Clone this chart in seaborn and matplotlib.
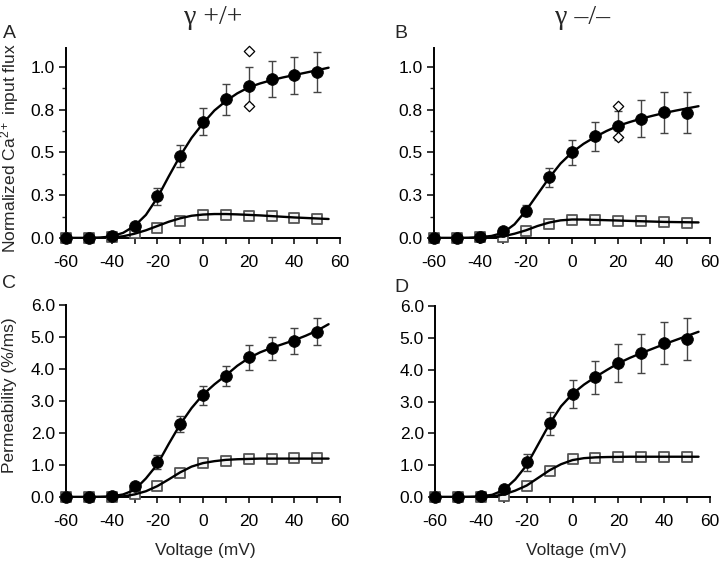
import numpy as np
import pandas as pd
import matplotlib
matplotlib.use("Agg")
import matplotlib.pyplot as plt
from matplotlib.ticker import FixedLocator
import seaborn as sns

# ---------------- data ----------------
volts = [-60, -50, -40, -30, -20, -10, 0, 10, 20, 30, 40, 50]
fit_v = [-60, -55, -50, -45, -40, -35, -30, -25, -20, -15, -10, -5,
         0, 5, 10, 15, 20, 25, 30, 35, 40, 45, 50, 55]

# Panel A (gamma +/+, normalized flux)
a_circ = [0, 0, 0.01, 0.07, 0.245, 0.48, 0.68, 0.81, 0.89, 0.93, 0.95, 0.97]
a_circ_err = [0, 0, 0.005, 0.02, 0.05, 0.065, 0.08, 0.09, 0.11, 0.105, 0.11, 0.115]
a_sq = [0, 0, 0.005, 0.03, 0.058, 0.10, 0.136, 0.136, 0.13, 0.126, 0.117, 0.113]
a_sq_err = [0, 0, 0, 0.005, 0.008, 0.01, 0.012, 0.012, 0.012, 0.01, 0.01, 0.01]
a_diam_v = [20, 20]
a_diam = [1.09, 0.77]
a_fit_circ = [0, 0, 0, 0.002, 0.01, 0.03, 0.07, 0.135, 0.235, 0.36, 0.48, 0.585,
              0.67, 0.745, 0.80, 0.845, 0.88, 0.903, 0.922, 0.938, 0.952, 0.966, 0.98, 0.995]
a_fit_sq = [0, 0, 0, 0.001, 0.003, 0.01, 0.025, 0.045, 0.07, 0.095, 0.115, 0.13,
            0.137, 0.14, 0.14, 0.138, 0.135, 0.132, 0.128, 0.124, 0.12, 0.117, 0.114, 0.111]

# Panel B (gamma -/-, normalized flux)
b_circ = [0, 0, 0.006, 0.04, 0.16, 0.354, 0.50, 0.593, 0.656, 0.698, 0.735, 0.733]
b_circ_err = [0, 0, 0.005, 0.015, 0.03, 0.055, 0.073, 0.082, 0.085, 0.107, 0.12, 0.12]
b_sq = [0, 0, 0.003, 0.006, 0.04, 0.084, 0.107, 0.103, 0.10, 0.10, 0.093, 0.09]
b_sq_err = [0, 0, 0, 0.003, 0.006, 0.008, 0.01, 0.01, 0.01, 0.01, 0.008, 0.008]
b_diam_v = [20, 20]
b_diam = [0.772, 0.59]
b_fit_circ = [0, 0, 0, 0.001, 0.005, 0.012, 0.03, 0.08, 0.16, 0.255, 0.35, 0.435,
              0.50, 0.55, 0.59, 0.625, 0.655, 0.677, 0.697, 0.714, 0.73, 0.744, 0.757, 0.77]
b_fit_sq = [0, 0, 0, 0, 0.001, 0.003, 0.01, 0.025, 0.045, 0.07, 0.09, 0.103,
            0.108, 0.108, 0.106, 0.104, 0.102, 0.10, 0.098, 0.096, 0.094, 0.093, 0.092, 0.091]

# Panel C (gamma +/+, permeability)
c_circ = [0, 0, 0.02, 0.33, 1.10, 2.27, 3.18, 3.78, 4.36, 4.65, 4.87, 5.17]
c_circ_err = [0, 0, 0.02, 0.06, 0.22, 0.25, 0.30, 0.31, 0.39, 0.36, 0.40, 0.43]
c_sq = [0, 0, 0, 0.08, 0.34, 0.76, 1.07, 1.13, 1.20, 1.20, 1.21, 1.21]
c_sq_err = [0, 0, 0, 0.02, 0.05, 0.06, 0.07, 0.08, 0.06, 0.06, 0.05, 0.05]
c_fit_circ = [0, 0, 0, 0.005, 0.02, 0.08, 0.22, 0.58, 1.02, 1.66, 2.27, 2.78,
              3.2, 3.52, 3.8, 4.1, 4.34, 4.52, 4.66, 4.78, 4.9, 5.04, 5.2, 5.4]
c_fit_sq = [0, 0, 0, 0, 0, 0.02, 0.08, 0.18, 0.34, 0.55, 0.77, 0.95,
            1.06, 1.12, 1.16, 1.18, 1.19, 1.2, 1.2, 1.2, 1.2, 1.2, 1.2, 1.2]

# Panel D (gamma -/-, permeability)
d_circ = [0, 0, 0.02, 0.26, 1.09, 2.32, 3.24, 3.76, 4.20, 4.51, 4.85, 4.95]
d_circ_err = [0, 0, 0.02, 0.06, 0.27, 0.36, 0.43, 0.52, 0.60, 0.61, 0.66, 0.66]
d_sq = [0, 0, 0, 0.04, 0.36, 0.83, 1.19, 1.24, 1.26, 1.27, 1.27, 1.27]
d_sq_err = [0, 0, 0, 0.02, 0.05, 0.06, 0.07, 0.07, 0.06, 0.06, 0.06, 0.06]
d_fit_circ = [0, 0, 0, 0.005, 0.02, 0.07, 0.22, 0.55, 1.0, 1.65, 2.3, 2.85,
              3.24, 3.53, 3.77, 3.99, 4.2, 4.37, 4.52, 4.66, 4.8, 4.93, 5.06, 5.19]
d_fit_sq = [0, 0, 0, 0, 0, 0.02, 0.08, 0.2, 0.36, 0.6, 0.84, 1.03,
            1.16, 1.22, 1.245, 1.255, 1.26, 1.265, 1.265, 1.265, 1.265, 1.265, 1.265, 1.265]

titles = ["\u03b3 +/+", "\u03b3 \u2013/\u2013"]
panel_letters = ["A", "B", "C", "D"]
top_yticks = [0, 0.25, 0.5, 0.75, 1.0]
top_ylabels = ["0.0", "0.3", "0.5", "0.8", "1.0"]
bot_yticks = [0, 1, 2, 3, 4, 5, 6]
bot_ylabels = ["0.0", "1.0", "2.0", "3.0", "4.0", "5.0", "6.0"]
xticks_lab = [-60, -40, -20, 0, 20, 40, 60]

# ---------------- style ----------------
sns.set_style("ticks")
plt.rcParams["font.family"] = ["Liberation Sans", "DejaVu Sans"]
plt.rcParams["mathtext.fontset"] = "custom"
plt.rcParams["mathtext.rm"] = "Liberation Sans"
plt.rcParams["mathtext.it"] = "Liberation Sans:italic"
plt.rcParams["axes.unicode_minus"] = False
plt.rcParams["axes.linewidth"] = 1.2

fig = plt.figure(figsize=(7.2, 5.62), dpi=100)
W, H = 720, 562
def rect(l, r, b, t):
    return [l / W, 1 - b / H, (r - l) / W, (b - t) / H]

axA = fig.add_axes(rect(66, 340, 238, 48))
axB = fig.add_axes(rect(434, 710, 238, 48))
axC = fig.add_axes(rect(66, 340, 497, 305))
axD = fig.add_axes(rect(435, 710, 497, 306))

panels = [
    (axA, a_circ, a_circ_err, a_sq, a_sq_err, a_fit_circ, a_fit_sq, (a_diam_v, a_diam), True),
    (axB, b_circ, b_circ_err, b_sq, b_sq_err, b_fit_circ, b_fit_sq, (b_diam_v, b_diam), True),
    (axC, c_circ, c_circ_err, c_sq, c_sq_err, c_fit_circ, c_fit_sq, None, False),
    (axD, d_circ, d_circ_err, d_sq, d_sq_err, d_fit_circ, d_fit_sq, None, False),
]

for ax, circ, cerr, sq, serr, fc, fs, diam, top in panels:
    fit_df = pd.DataFrame({"V": fit_v + fit_v, "y": fc + fs,
                           "s": ["c"] * len(fit_v) + ["s"] * len(fit_v)})
    # error bars
    ax.errorbar(volts, sq, yerr=serr, fmt="none", ecolor="#333333",
                elinewidth=0.9, capsize=3, capthick=0.9, zorder=2)
    ax.errorbar(volts, circ, yerr=cerr, fmt="none", ecolor="#444444",
                elinewidth=1.0, capsize=3.2, capthick=1.0, zorder=2)
    # squares
    sns.scatterplot(x=volts, y=sq, ax=ax, marker="s", s=48, facecolor="#f4f4f4",
                    edgecolor="#555555", linewidth=1.3, zorder=3, clip_on=False)
    # fit curves
    sns.lineplot(data=fit_df, x="V", y="y", units="s", estimator=None, ax=ax,
                 color="black", linewidth=1.7, zorder=4, legend=False)
    # circles
    sns.scatterplot(x=volts, y=circ, ax=ax, marker="o", s=72, color="black",
                    edgecolor="black", linewidth=0.5, zorder=5, clip_on=False)
    if diam is not None:
        sns.scatterplot(x=diam[0], y=diam[1], ax=ax, marker="D", s=28,
                        facecolor="white", edgecolor="black", linewidth=0.9, zorder=6,
                        clip_on=False)

    ax.set_xlim(-60, 60)
    ax.xaxis.set_major_locator(FixedLocator(xticks_lab))
    ax.xaxis.set_minor_locator(FixedLocator([-50, -30, -10, 10, 30, 50]))
    ax.tick_params(axis="x", which="both", direction="out", length=4, width=1.1,
                   labelsize=12.5, pad=8, colors="black")
    if top:
        ax.set_ylim(0, 1.11)
        ax.yaxis.set_major_locator(FixedLocator(top_yticks))
        ax.set_yticklabels(top_ylabels)
        ax.yaxis.set_minor_locator(FixedLocator([0.125, 0.375, 0.625, 0.875]))
        ax.tick_params(axis="y", which="minor", direction="out", length=3, width=1.0)
    else:
        ax.set_ylim(0, 6)
        ax.yaxis.set_major_locator(FixedLocator(bot_yticks))
        ax.set_yticklabels(bot_ylabels)
    ax.tick_params(axis="y", which="major", direction="out", length=5, width=1.1,
                   labelsize=12.5, pad=3, colors="black")
    ax.set_xlabel("")
    ax.set_ylabel("")
    for sp in ["top", "right"]:
        ax.spines[sp].set_visible(False)
    for sp in ["left", "bottom"]:
        ax.spines[sp].set_color("black")
        ax.spines[sp].set_linewidth(1.4)
        ax.spines[sp].set_zorder(1)

# titles
fig.text(213 / W, 1 - 17 / H, titles[0], ha="center", va="center",
         fontsize=20, family=["Liberation Serif", "DejaVu Serif"])
fig.text(583 / W, 1 - 17 / H, titles[1], ha="center", va="center",
         fontsize=20, family=["Liberation Serif", "DejaVu Serif"])

# panel letters
for lab, (px, py) in zip(panel_letters, [(9, 33), (401, 34), (9, 283), (401, 287)]):
    fig.text(px / W, 1 - py / H, lab, ha="center", va="center", fontsize=14)

# y labels
fig.text(10 / W, 1 - 148 / H, r"Normalized Ca$^{2+}$ input flux", rotation=90,
         ha="center", va="center", fontsize=12.5)
fig.text(10 / W, 1 - 395 / H, "Permeability (%/ms)", rotation=90,
         ha="center", va="center", fontsize=12.5)

# x labels
fig.text(205 / W, 1 - 551 / H, "Voltage (mV)", ha="center", va="center", fontsize=12.5)
fig.text(576 / W, 1 - 551 / H, "Voltage (mV)", ha="center", va="center", fontsize=12.5)

fig.savefig("out.png", dpi=100)
